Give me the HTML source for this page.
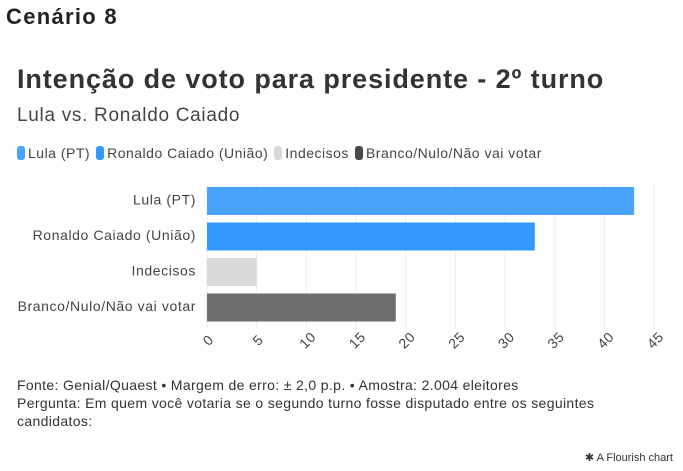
<!DOCTYPE html>
<html><head><meta charset="utf-8"><style>
body{margin:0;width:683px;height:471px;background:#fff;font-family:"Liberation Sans",sans-serif;color:#333;position:relative;overflow:hidden}
.a{position:absolute;white-space:nowrap}
</style></head><body>
<div class="a" style="left:6px;top:4px;font-size:22px;font-weight:bold;color:#222;letter-spacing:1.3px">Cenário 8</div>
<div class="a" style="left:17px;top:64px;font-size:27px;font-weight:bold;color:#333;letter-spacing:0.9px">Intenção de voto para presidente - 2º turno</div>
<div class="a" style="left:17px;top:105px;font-size:19px;color:#444;letter-spacing:0.7px">Lula vs. Ronaldo Caiado</div>
<div class="a" style="left:17px;top:145px;font-size:14px;color:#444;display:flex;gap:6px;align-items:center;letter-spacing:0.5px">
<span style="display:flex;align-items:center"><i style="display:inline-block;width:8px;height:14px;border-radius:3px;background:#4aa4fb;margin-right:3px"></i>Lula (PT)</span>
<span style="display:flex;align-items:center"><i style="display:inline-block;width:8px;height:14px;border-radius:3px;background:#3399ff;margin-right:3px"></i>Ronaldo Caiado (União)</span>
<span style="display:flex;align-items:center"><i style="display:inline-block;width:8px;height:14px;border-radius:3px;background:#d9d9d9;margin-right:3px"></i>Indecisos</span>
<span style="display:flex;align-items:center"><i style="display:inline-block;width:8px;height:14px;border-radius:3px;background:#4a4a4a;margin-right:3px"></i>Branco/Nulo/Não vai votar</span>
</div>
<svg id="chart" class="a" style="left:0;top:0" width="683" height="471"></svg>
<div class="a" style="left:17px;top:376px;font-size:14px;line-height:18px;color:#333;white-space:normal;width:640px;letter-spacing:0.35px">Fonte: Genial/Quaest • Margem de erro: ± 2,0 p.p. • Amostra: 2.004 eleitores<br>Pergunta: Em quem você votaria se o segundo turno fosse disputado entre os seguintes candidatos:</div>
<div class="a" style="right:10px;top:451px;font-size:11px;color:#333">✱ A Flourish chart</div>
<script>
const categories=["Lula (PT)","Ronaldo Caiado (União)","Indecisos","Branco/Nulo/Não vai votar"];
const values=[43,33,5,19];
const colors=["#4aa4fb","#3399ff","#d9d9d9","#6e6e6e"];
const ticks=[0,5,10,15,20,25,30,35,40,45];
const svg=document.getElementById('chart');const NS="http://www.w3.org/2000/svg";
const x0=207,x1=654,xmax=45,top0=185,band=35.5,bh=28;
const xs=v=>x0+(v/xmax)*(x1-x0);
function mk(t,a){const e=document.createElementNS(NS,t);for(const k in a)e.setAttribute(k,a[k]);svg.appendChild(e);return e;}
ticks.forEach(t=>{
 const g=mk('line',{x1:xs(t),x2:xs(t),y1:top0,y2:top0+band*4+2,stroke:'#ececec'});
 
 
 const tx=xs(t)+2,ty=341;
 const l=mk('text',{x:tx,y:ty,'font-size':14,fill:'#444','text-anchor':'middle','dominant-baseline':'middle',transform:`rotate(-45 ${tx} ${ty})`,'font-family':'Liberation Sans, sans-serif','letter-spacing':'0.5'});
 l.textContent=t;
 
 
});
categories.forEach((c,i)=>{
 const y=top0+i*band+2;
 const r=mk('rect',{x:x0,y:y,width:xs(values[i])-x0,height:bh,fill:colors[i]});
 
 
 const l=mk('text',{x:196,y:y+bh/2,'font-size':14,fill:'#444','text-anchor':'end','dominant-baseline':'middle','font-family':'Liberation Sans, sans-serif','letter-spacing':'0.6'});
 l.textContent=c;
 
 
});
</script>
</body></html>
